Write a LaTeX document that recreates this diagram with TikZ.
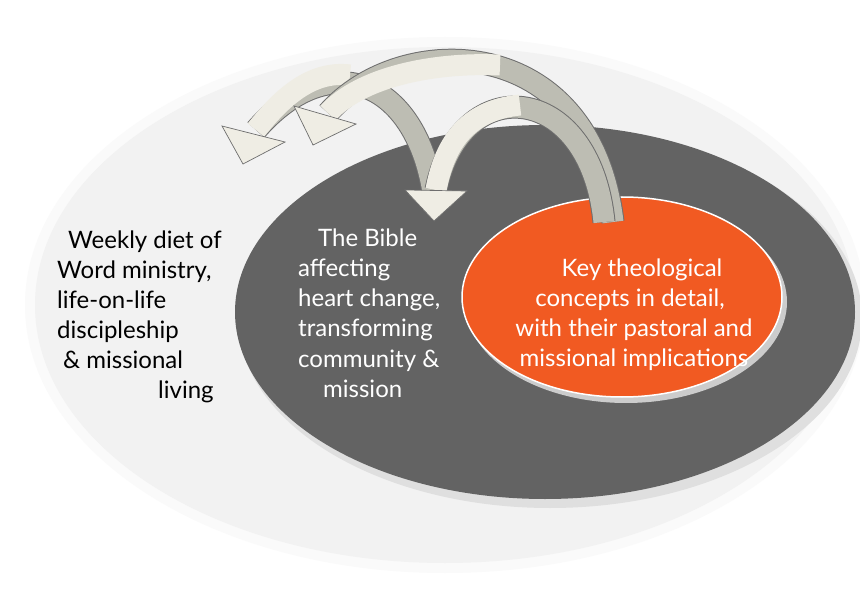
\documentclass[tikz,border=0pt]{standalone}
\usepackage{fontspec}
\setmainfont{Lato}
\definecolor{light}{HTML}{F2F2F2}
\definecolor{dark}{HTML}{636363}
\definecolor{orng}{HTML}{F15A22}
\definecolor{beige}{HTML}{EFEDE4}
\definecolor{band}{HTML}{BDBDB3}
\definecolor{edge}{HTML}{6E6E6E}
\tikzset{
 lt/.style={anchor=base west,font=\fontsize{24}{28}\selectfont,inner sep=0},
 wt/.style={lt,text=white},
 bandout/.style={draw=edge,line width=23pt},
 bandin/.style={line width=21pt},
 head/.style={fill=beige,draw=edge,line width=0.7pt,line join=miter}
}
\begin{document}
\begin{tikzpicture}[x=1pt,y=-1pt]
\useasboundingbox (0,0) rectangle (860,607);
\fill[white] (0,0) rectangle (860,607);
\fill[gray!4] (445,305) ellipse[x radius=420,y radius=268];
\fill[light] (445,305) ellipse[x radius=410,y radius=258];
\fill[gray!25] (550,318) ellipse[x radius=312,y radius=190];
\fill[dark] (545,312) ellipse[x radius=310,y radius=187];
\fill[black!20] (626,302) ellipse[x radius=161,y radius=101];
\fill[orng,draw=white,line width=1.5pt] (622,297) ellipse[x radius=160,y radius=100];
% Arrow C (leftmost)
\draw[bandout] (433,192) .. controls (415,80) and (330,45) .. (256,130);
\draw[bandin,band] (433,192) .. controls (415,80) and (330,45) .. (256,130);
\draw[bandin,beige] (350,75) .. controls (310,70) and (280,100) .. (256,130);
\draw[head] (222,126) -- (243,164) -- (285,142) -- cycle;
% Arrow A
\draw[bandout] (613,222) .. controls (590,30) and (400,30) .. (328,113);
\draw[bandin,band] (613,222) .. controls (590,30) and (400,30) .. (328,113);
\draw[bandin,beige] (500,65) .. controls (430,62) and (360,78) .. (328,113);
\draw[head] (294,106) -- (313,145) -- (356,124) -- cycle;
% Arrow D
\draw[bandout] (604,222) .. controls (590,80) and (460,70) .. (436,190);
\draw[bandin,band] (604,222) .. controls (590,80) and (460,70) .. (436,190);
\draw[bandin,beige] (520,105) .. controls (470,110) and (445,140) .. (436,190);
\draw[head] (405,190) -- (434,221) -- (467,191) -- cycle;
% texts
\node[lt] (l1) at (68,248) {Weekly diet of};
\node[lt] (l2) at (57,278) {Word ministry,};
\node[lt] (l3) at (57,308) {life-on-life};
\node[lt] (l4) at (57,338) {discipleship};
\node[lt] (l5) at (63,368) {\& missional};
\node[lt] (l6) at (158,398) {living};
\node[wt] (m1) at (318,246) {The Bible};
\node[wt] (m2) at (298,276) {affecting};
\node[wt] (m3) at (298,306) {heart change,};
\node[wt] (m4) at (298,336) {transforming};
\node[wt] (m5) at (298,367) {community \&};
\node[wt] (m6) at (323,397) {mission};
\node[wt,anchor=base] (o1) at (642,276) {Key theological};
\node[wt,anchor=base] (o2) at (630,306) {concepts in detail,};
\node[wt,anchor=base] (o3) at (634,336) {with their pastoral and};
\node[wt,anchor=base] (o4) at (634,366) {missional implications};
\end{tikzpicture}
\end{document}
